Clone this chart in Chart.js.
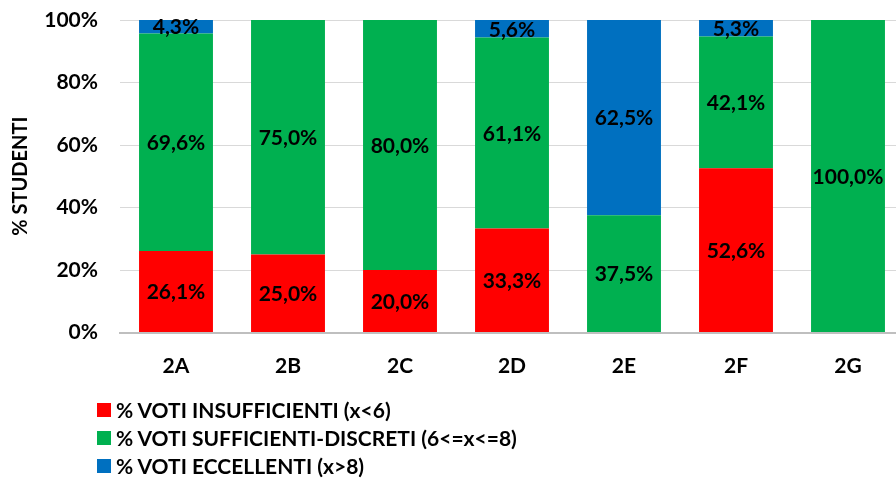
<!DOCTYPE html>
<html>
<head>
<meta charset="utf-8">
<script src="https://cdn.jsdelivr.net/npm/chart.js@4"></script>
<style>
  html, body { margin: 0; padding: 0; background: #fff; overflow: hidden; }
  #wrap { position: relative; width: 910px; height: 478px; }
  #legend { position: absolute; left: 97px; top: 396px; font: bold 21px Lato, sans-serif; color: #000; }
  #legend div { height: 28px; line-height: 28px; display: flex; align-items: center; }
  #legend span { display: inline-block; width: 14px; height: 14px; margin-right: 5px; }
</style>
</head>
<body>
<div id="wrap">
  <canvas id="chart" width="910" height="478"></canvas>
  <div id="legend"></div>
</div>
<script>
// Classi
const classes = ['2A', '2B', '2C', '2D', '2E', '2F', '2G'];

// Percentuali per fascia di voto
const insufficienti = [26.1, 25.0, 20.0, 33.3, 0, 52.6, 0];
const sufficienti = [69.6, 75.0, 80.0, 61.1, 37.5, 42.1, 100.0];
const eccellenti = [4.3, 0, 0, 5.6, 62.5, 5.3, 0];

const seriesNames = [
    '% VOTI INSUFFICIENTI (x<6)',
    '% VOTI SUFFICIENTI-DISCRETI (6<=x<=8)',
    '% VOTI ECCELLENTI (x>8)'
];
const seriesColors = ['#FF0000', '#00B050', '#0070C0'];

const yTicks = [0, 20, 40, 60, 80, 100];

const FONT = 'Lato, sans-serif';

// Etichette dei valori al centro di ogni segmento
const barLabels = {
    id: 'barLabels',
    afterDatasetsDraw(chart) {
        const ctx = chart.ctx;
        ctx.save();
        ctx.font = 'bold 21px ' + FONT;
        ctx.fillStyle = '#000';
        ctx.textAlign = 'center';
        ctx.textBaseline = 'middle';
        chart.data.datasets.forEach((ds, i) => {
            chart.getDatasetMeta(i).data.forEach((bar, j) => {
                const v = ds.data[j];
                if (!v) return;
                const txt = v.toFixed(1).replace('.', ',') + '%';
                ctx.fillText(txt, bar.x, (bar.y + bar.base) / 2 + 1);
            });
        });
        ctx.restore();
    }
};

const chart = new Chart(document.getElementById('chart'), {
    type: 'bar',
    data: {
        labels: classes,
        datasets: [insufficienti, sufficienti, eccellenti].map((d, i) => ({
            label: seriesNames[i],
            data: d,
            backgroundColor: seriesColors[i],
            barPercentage: 0.66,
            categoryPercentage: 1.0
        }))
    },
    options: {
        responsive: false,
        animation: false,
        layout: { padding: { left: 5, top: 20, right: 6, bottom: 0 } },
        plugins: {
            legend: { display: false },
            tooltip: { enabled: false }
        },
        scales: {
            x: {
                stacked: true,
                grid: { display: false, drawTicks: false },
                border: { color: '#BFBFBF', width: 2 },
                ticks: { color: '#000', padding: 21, font: { family: FONT, size: 21, weight: 'bold' } },
                afterFit: s => { s.height = 145.5; }
            },
            y: {
                stacked: true,
                min: 0,
                max: 100,
                afterBuildTicks: s => { s.ticks = yTicks.map(v => ({ value: v })); },
                grid: { color: '#D9D9D9', drawTicks: false },
                border: { display: false },
                ticks: {
                    color: '#000',
                    padding: 22,
                    font: { family: FONT, size: 21, weight: 'bold' },
                    callback: v => v + '%'
                },
                title: {
                    display: true,
                    text: '% STUDENTI',
                    color: '#000',
                    padding: { top: 4, bottom: 4 },
                    font: { family: FONT, size: 20, weight: 'bold' }
                },
                afterFit: s => {
                    s.width = 115;
                    s.paddingTop = 0;
                    s.paddingBottom = 0;
                }
            }
        }
    },
    plugins: [barLabels]
});

// Legenda verticale
const legend = document.getElementById('legend');
seriesNames.forEach((name, i) => {
    const row = document.createElement('div');
    const box = document.createElement('span');
    box.style.background = seriesColors[i];
    row.appendChild(box);
    row.appendChild(document.createTextNode(name));
    legend.appendChild(row);
});
</script>
</body>
</html>
